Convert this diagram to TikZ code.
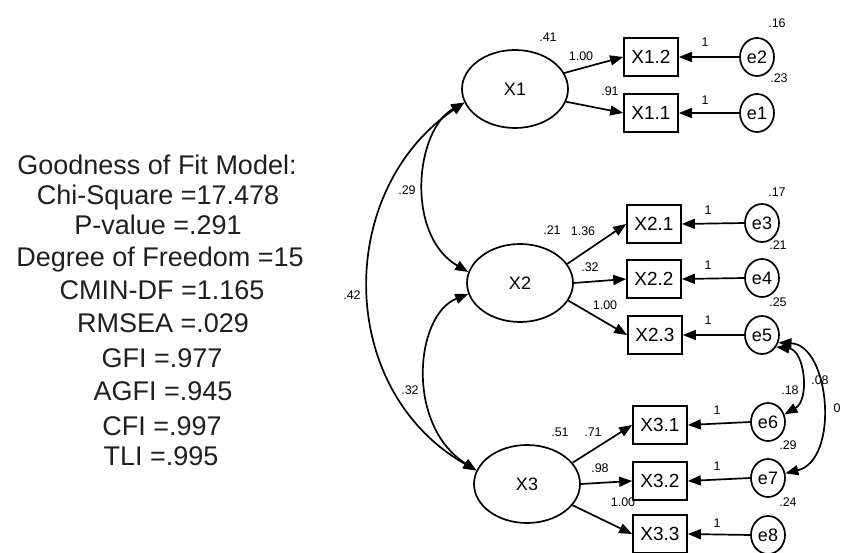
\documentclass[tikz,border=0pt]{standalone}
\usepackage{fontspec}
\setmainfont{Liberation Sans}
\usetikzlibrary{arrows.meta,shapes.geometric}

\begin{document}
\begin{tikzpicture}[x=1pt,y=-1pt,
  line width=1.7pt,
  latent/.style={draw, ellipse, minimum width=106pt, minimum height=78pt, inner sep=0pt,
    font=\fontsize{18}{18}\selectfont},
  obs/.style={draw, rectangle, minimum width=54pt, minimum height=38pt, inner sep=0pt,
    font=\fontsize{19}{19}\selectfont},
  err/.style={draw, ellipse, minimum width=34pt, minimum height=38pt, inner sep=0pt,
    font=\fontsize{18}{18}\selectfont},
  lbl/.style={font=\fontsize{12.5}{12.5}\selectfont, inner sep=0pt},
  fitline/.style={font=\fontsize{27}{27}\selectfont, inner sep=0pt, anchor=base, text=black!88},
  load/.style={-{Triangle[length=13pt,width=10pt]}},
  cov/.style={{Triangle[length=13pt,width=10pt]}-{Triangle[length=13pt,width=10pt]}}
]
\useasboundingbox[fill=white] (0,0) rectangle (841,553);

% fit statistics
\node[fitline] (f1)  at (157,175) {Goodness of Fit Model:};
\node[fitline] (f2)  at (158,205) {Chi-Square =17.478};
\node[fitline] (f3)  at (158,235) {P-value =.291};
\node[fitline] (f4)  at (160,267) {Degree of Freedom =15};
\node[fitline] (f5)  at (162,300) {CMIN-DF =1.165};
\node[fitline] (f6)  at (163,333) {RMSEA =.029};
\node[fitline] (f7)  at (162,368) {GFI =.977};
\node[fitline] (f8)  at (163,400) {AGFI =.945};
\node[fitline] (f9)  at (162,435) {CFI =.997};
\node[fitline] (f10) at (161,465) {TLI =.995};

% latent factors
\node[latent] (X1) at (515,89)  {X1};
\node[latent] (X2) at (520,283) {X2};
\node[latent] (X3) at (527,484) {X3};

% indicators
\node[obs] (X12) at (651,57)  {X1.2};
\node[obs] (X11) at (651,113) {X1.1};
\node[obs] (X21) at (654,224) {X2.1};
\node[obs] (X22) at (654,279) {X2.2};
\node[obs] (X23) at (655,335) {X2.3};
\node[obs] (X31) at (660,425) {X3.1};
\node[obs] (X32) at (660,481) {X3.2};
\node[obs] (X33) at (660,534) {X3.3};

% error terms
\node[err] (e2) at (757,57)  {e2};
\node[err] (e1) at (757,113) {e1};
\node[err] (e3) at (762,223) {e3};
\node[err] (e4) at (762,278) {e4};
\node[err] (e5) at (762,335) {e5};
\node[err] (e6) at (768,422) {e6};
\node[err] (e7) at (768,478) {e7};
\node[err] (e8) at (768,535) {e8};

% loadings
\draw[load] (X1.18)  -- (X12.west);
\draw[load] (X1.-14) -- (X11.west);
\draw[load] (X2.22)  -- (X21.west);
\draw[load] (X2.east) -- (X22.west);
\draw[load] (X2.-20) -- (X23.west);
\draw[load] (X3.25)  -- (X31.west);
\draw[load] (X3.east) -- (X32.west);
\draw[load] (X3.-25) -- (X33.west);

% error paths
\foreach \e/\x in {e2/X12, e1/X11, e3/X21, e4/X22, e5/X23, e6/X31, e7/X32, e8/X33}
  \draw[load] (\e.west) -- (\x.east);

% factor covariances
\draw[cov] (X1.195) .. controls (415,130) and (405,235) .. (X2.168);
\draw[cov] (X2.192) .. controls (415,315) and (405,425) .. (X3.165);
\draw[cov] (X1.195) .. controls (335,190) and (335,390) .. (X3.165);

% error covariances
\draw[cov] (e5.-40) .. controls (805,350) and (810,400) .. (e6.25);
\draw[cov] (e5.-25) .. controls (830,345) and (840,460) .. (e7.15);

% estimates
\node[lbl] (l1)  at (548,37)  {.41};
\node[lbl] (l2)  at (581,56)  {1.00};
\node[lbl] (l3)  at (610,91)  {.91};
\node[lbl] (l4)  at (705,42)  {1};
\node[lbl] (l5)  at (705,100) {1};
\node[lbl] (l6)  at (777,23)  {.16};
\node[lbl] (l7)  at (779,78)  {.23};
\node[lbl] (l8)  at (777,192) {.17};
\node[lbl] (l9)  at (778,245) {.21};
\node[lbl] (l10) at (778,302) {.25};
\node[lbl] (l11) at (552,230) {.21};
\node[lbl] (l12) at (583,231) {1.36};
\node[lbl] (l13) at (590,267) {.32};
\node[lbl] (l14) at (605,305) {1.00};
\node[lbl] (l15) at (708,210) {1};
\node[lbl] (l16) at (708,265) {1};
\node[lbl] (l17) at (708,320) {1};
\node[lbl] (l18) at (560,432) {.51};
\node[lbl] (l19) at (593,432) {.71};
\node[lbl] (l20) at (600,468) {.98};
\node[lbl] (l21) at (623,502) {1.00};
\node[lbl] (l22) at (717,410) {1};
\node[lbl] (l23) at (717,466) {1};
\node[lbl] (l24) at (717,523) {1};
\node[lbl] (l25) at (788,445) {.29};
\node[lbl] (l26) at (788,502) {.24};
\node[lbl] (l27) at (790,390) {.18};
\node[lbl] (l28) at (820,380) {.08};
\node[lbl] (l29) at (837,408) {0};
\node[lbl] (l30) at (407,190) {.29};
\node[lbl] (l31) at (352,295) {.42};
\node[lbl] (l32) at (410,390) {.32};
\end{tikzpicture}
\end{document}
